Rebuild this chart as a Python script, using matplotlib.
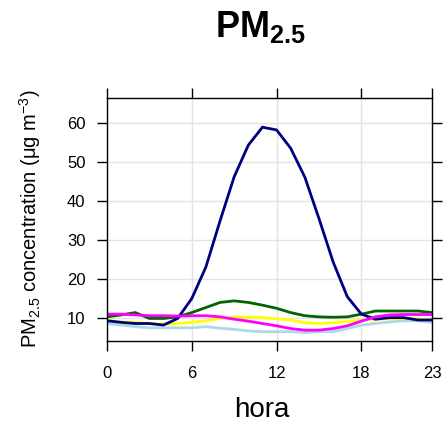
import numpy as np
import matplotlib
matplotlib.use("Agg")
import matplotlib.pyplot as plt

plt.rcParams['font.family'] = ['Liberation Sans', 'DejaVu Sans']
plt.rcParams['mathtext.fontset'] = 'custom'
plt.rcParams['mathtext.rm'] = 'Liberation Sans'
plt.rcParams['mathtext.bf'] = 'Liberation Sans:bold'

hora = list(range(24))

navy = [9.4, 9.0, 8.7, 8.7, 8.3, 10.0, 15.1, 23.2, 35.0, 46.3, 54.4, 59.0,
        58.3, 53.6, 46.2, 35.6, 24.5, 15.6, 11.1, 9.8, 10.2, 10.2, 9.6, 9.6]
green = [10.4, 10.9, 11.5, 10.0, 10.0, 10.4, 11.5, 12.8, 14.1, 14.5, 14.1, 13.4,
         12.6, 11.5, 10.7, 10.4, 10.3, 10.4, 11.1, 11.9, 11.9, 11.9, 11.9, 11.5]
yellow = [9.6, 9.1, 9.0, 8.7, 8.6, 8.7, 9.0, 9.4, 10.0, 10.4, 10.3, 10.2,
          9.9, 9.6, 8.9, 8.7, 8.9, 9.2, 9.6, 9.8, 9.9, 10.0, 9.9, 9.6]
magenta = [11.1, 11.1, 10.9, 10.7, 10.7, 10.6, 10.7, 10.7, 10.4, 9.8, 9.3, 8.7,
           8.1, 7.4, 7.0, 7.0, 7.4, 8.1, 9.3, 10.4, 10.9, 11.0, 11.0, 11.0]
lightblue = [8.7, 8.3, 7.9, 7.6, 7.6, 7.6, 7.6, 7.9, 7.5, 7.2, 6.8, 6.6,
             6.6, 6.6, 6.4, 6.6, 6.6, 7.4, 8.3, 8.7, 9.1, 9.4, 9.4, 9.0]

series = [(lightblue, '#add8e6'), (yellow, '#ffff00'), (green, '#006400'),
          (navy, '#000080'), (magenta, '#ff00ff')]

xticks = [0, 6, 12, 18, 23]
yticks = [10, 20, 30, 40, 50, 60]

fig = plt.figure(figsize=(4.44, 4.22), dpi=100)
ax = fig.add_axes([0.2410, 0.1927, 0.7320, 0.5743])

for vals, col in series:
    ax.plot(hora, vals, color=col, lw=2.0, solid_joinstyle='miter')

ax.set_xlim(0, 23)
ax.set_ylim(4.3, 66.4)
ax.set_xticks(xticks)
ax.set_yticks(yticks)
ax.grid(True, color='#e3e3e3', lw=1)
ax.set_axisbelow(True)

ax.tick_params(direction='out', length=7.5, width=1, labelsize=12, color='black',
               top=True, right=True)
ax.tick_params(axis='x', pad=11)
ax.tick_params(axis='y', pad=8)
for s in ax.spines.values():
    s.set_linewidth(1)

ax.set_xlabel('hora', fontsize=20)
ax.xaxis.set_label_coords(0.477, -0.3135)
ax.xaxis.label.set_verticalalignment('baseline')
ax.set_ylabel(r'PM$_{2.5}$ concentration ($\mathrm{\mu}$g m$^{-3}$)', fontsize=14.5)
ax.yaxis.set_label_coords(-0.238, 0.505)
ax.yaxis.label.set_verticalalignment('center')
fig.text(0.5856, 0.913, r'$\mathbf{PM_{2.5}}$', fontsize=26, ha='center', va='baseline')

fig.savefig('out.png', dpi=100)
